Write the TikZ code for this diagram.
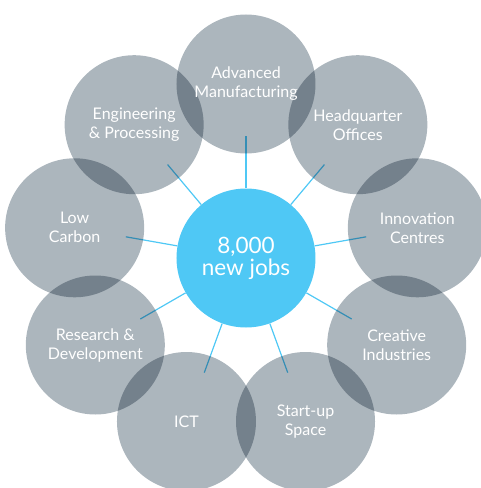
\documentclass[tikz,border=0pt]{standalone}
\usepackage{fontspec}
\setmainfont{Lato}
\usetikzlibrary{positioning}

\definecolor{jobblue}{RGB}{79,200,245}
\definecolor{sectorgray}{RGB}{172,182,189}

\begin{document}
\begin{tikzpicture}[x=1pt,y=1pt,
  sector/.style={circle,minimum size=139pt,inner sep=0pt,align=center,text=white,font=\fontsize{16}{19}\selectfont,preaction={fill=sectorgray,blend mode=multiply}},
  jobs node/.style={circle,fill=jobblue,minimum size=139pt,inner sep=0pt,align=center,text=white,font=\fontsize{22.5}{22}\selectfont},
  spoke/.style={draw=jobblue,line width=1.2pt}]

  \useasboundingbox (-246,-230) rectangle (235,258); % Rand wie im Original

% Mitte
  \node[jobs node] (jobs) at (0,0) {8,000\\new jobs};

% Endpunkte der Speichen, liegen innerhalb der grauen Kreise
  \coordinate (adv end) at (90:122);
  \coordinate (hq end) at (50:122);
  \coordinate (inno end) at (10:122);
  \coordinate (crea end) at (-30:122);
  \coordinate (start end) at (-70:122);
  \coordinate (ict end) at (-110:122);
  \coordinate (rd end) at (210:122);
  \coordinate (low end) at (170:122);
  \coordinate (eng end) at (130:122);

  \draw[spoke] (jobs) -- (adv end);
  \draw[spoke] (jobs) -- (hq end);
  \draw[spoke] (jobs) -- (inno end);
  \draw[spoke] (jobs) -- (crea end);
  \draw[spoke] (jobs) -- (start end);
  \draw[spoke] (jobs) -- (ict end);
  \draw[spoke] (jobs) -- (rd end);
  \draw[spoke] (jobs) -- (low end);
  \draw[spoke] (jobs) -- (eng end);

% graue Kreise, multiply ergibt die dunklen Ueberschneidungen
  \node[sector] (hq) at (50:174) {Headquarter\\Offices};
  \node[sector] (inno) at (10:174) {Innovation\\Centres};
  \node[sector] (crea) at (-30:174) {Creative\\Industries};
  \node[sector] (start) at (-70:174) {Start-up\\Space};
  \node[sector] (ict) at (-110:174) {ICT};
  \node[sector] (rd) at (210:174) {Research \&\\Development};
  \node[sector] (low) at (170:174) {Low\\Carbon};
  \node[sector] (eng) at (130:174) {Engineering\\\& Processing};
  \node[sector] (adv) at (90:174) {Advanced\\Manufacturing}; % zuletzt, damit der Text oben liegt
\end{tikzpicture}
\end{document}
